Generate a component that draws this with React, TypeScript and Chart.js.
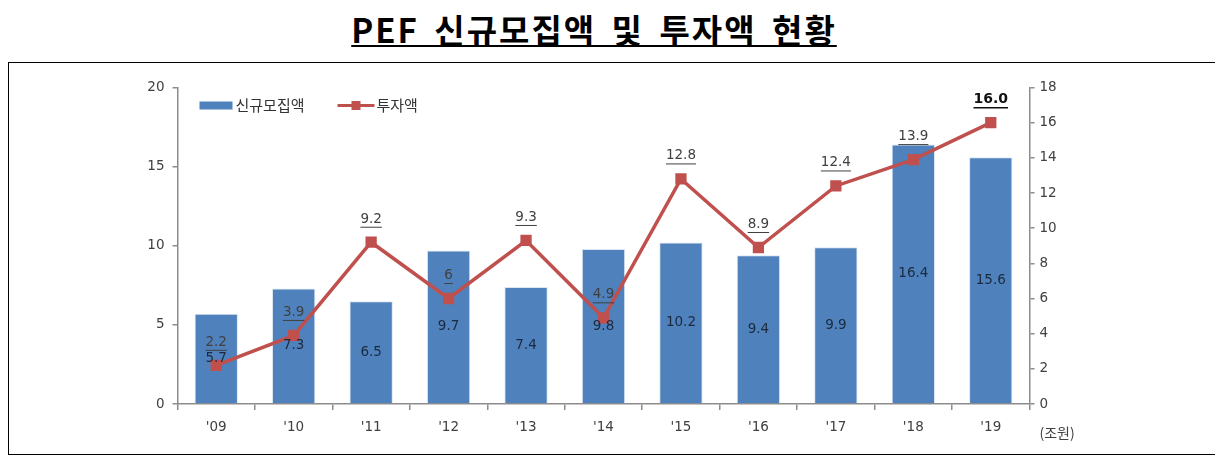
import { useEffect, useRef } from "react";
import { Chart, registerables, Plugin } from "chart.js";

Chart.register(...registerables);

const years = ["'09", "'10", "'11", "'12", "'13", "'14", "'15", "'16", "'17", "'18", "'19"];
const fundRaised = [5.7, 7.3, 6.5, 9.7, 7.4, 9.8, 10.2, 9.4, 9.9, 16.4, 15.6];
const invested = [2.2, 3.9, 9.2, 6, 9.3, 4.9, 12.8, 8.9, 12.4, 13.9, 16.0];
const investedLabels = ["2.2", "3.9", "9.2", "6", "9.3", "4.9", "12.8", "8.9", "12.4", "13.9", "16.0"];

const BLUE = "#4F81BD";
const RED = "#C0504D";
const NUM_FONT = "'DejaVu Sans', Verdana, sans-serif";
const KR_FONT = "'Noto Sans CJK KR', 'Noto Sans', sans-serif";

// value labels, legend and unit text
const labelsPlugin: Plugin = {
  id: "pefLabels",
  afterDatasetsDraw(chart) {
    const ctx = chart.ctx;
    const area = chart.chartArea;
    ctx.save();

    // bar labels, centred in the bar
    const barMeta = chart.getDatasetMeta(0);
    ctx.font = "13.5px " + NUM_FONT;
    ctx.fillStyle = "#1B2A3E";
    ctx.textAlign = "center";
    ctx.textBaseline = "middle";
    barMeta.data.forEach((el: any, i) => {
      ctx.fillText(String(fundRaised[i]), el.x, (el.y + el.base) / 2);
    });

    // line labels, underlined above the marker
    const lineMeta = chart.getDatasetMeta(1);
    lineMeta.data.forEach((el: any, i) => {
      const last = i === investedLabels.length - 1;
      ctx.font = (last ? "bold 14px " : "13.5px ") + NUM_FONT;
      ctx.fillStyle = last ? "#111" : "#404040";
      const txt = investedLabels[i];
      const y = el.y - 23;
      ctx.fillText(txt, el.x, y);
      const w = ctx.measureText(txt).width;
      ctx.strokeStyle = ctx.fillStyle;
      ctx.lineWidth = last ? 1.5 : 1;
      ctx.beginPath();
      ctx.moveTo(el.x - w / 2, y + 8);
      ctx.lineTo(el.x + w / 2, y + 8);
      ctx.stroke();
    });

    // legend
    const lx = area.left + 22;
    const ly = area.top + 18;
    ctx.fillStyle = BLUE;
    ctx.fillRect(lx, ly - 4, 33, 8);
    ctx.font = "15px " + KR_FONT;
    ctx.fillStyle = "#333";
    ctx.textAlign = "left";
    ctx.fillText("신규모집액", lx + 36, ly);
    const rx = lx + 138;
    ctx.strokeStyle = RED;
    ctx.lineWidth = 3;
    ctx.beginPath();
    ctx.moveTo(rx, ly);
    ctx.lineTo(rx + 37, ly);
    ctx.stroke();
    ctx.fillStyle = RED;
    ctx.fillRect(rx + 14, ly - 4.5, 9, 9);
    ctx.fillStyle = "#333";
    ctx.fillText("투자액", rx + 39, ly);

    // unit
    ctx.font = "14px " + KR_FONT;
    ctx.fillStyle = "#404040";
    ctx.fillText("(조원)", area.right + 10, area.bottom + 29);
    ctx.restore();
  },
};

export default function App() {
  const canvasRef = useRef<HTMLCanvasElement>(null);
  const chartRef = useRef<Chart | null>(null);

  useEffect(() => {
    if (!canvasRef.current) return;
    if (chartRef.current) chartRef.current.destroy();

    const tickFont = { family: NUM_FONT, size: 13.5 };
    const axisBorder = { display: true, color: "#8C8C8C", width: 1.5 };

    chartRef.current = new Chart(canvasRef.current, {
      type: "bar",
      data: {
        labels: years,
        datasets: [
          {
            type: "bar",
            label: "신규모집액",
            data: fundRaised,
            backgroundColor: BLUE,
            borderColor: "#DCE6F2",
            borderWidth: 1,
            barPercentage: 0.56,
            categoryPercentage: 1,
            yAxisID: "y",
            order: 2,
          },
          {
            type: "line",
            label: "투자액",
            data: invested,
            borderColor: RED,
            backgroundColor: RED,
            borderWidth: 3.5,
            pointStyle: "rect",
            pointRadius: 5.5,
            pointHoverRadius: 5.5,
            yAxisID: "y1",
            order: 1,
          },
        ],
      },
      options: {
        responsive: false,
        animation: false,
        layout: { padding: { top: 24.5, left: 0, right: 0, bottom: 0 } },
        plugins: {
          legend: { display: false },
          tooltip: { enabled: false },
        },
        scales: {
          x: {
            offset: true,
            grid: { drawOnChartArea: false, offset: true, tickLength: 6, color: "#8C8C8C", lineWidth: 1.5 },
            border: axisBorder,
            ticks: { font: tickFont, color: "#404040", padding: 9 },
            afterFit: (s: any) => { s.height = 50; },
          },
          y: {
            position: "left",
            min: 0,
            max: 20,
            ticks: { stepSize: 5, font: tickFont, color: "#404040", padding: 8 },
            grid: { drawOnChartArea: false, tickLength: 5, color: "#8C8C8C", lineWidth: 1.5 },
            border: axisBorder,
            afterFit: (s: any) => { s.width = 168.5; },
          },
          y1: {
            position: "right",
            min: 0,
            max: 18,
            ticks: { stepSize: 2, font: tickFont, color: "#404040", padding: 5 },
            grid: { drawOnChartArea: false, tickLength: 5, color: "#8C8C8C", lineWidth: 1.5 },
            border: axisBorder,
            afterFit: (s: any) => { s.width = 186.5; },
          },
        },
      },
      plugins: [labelsPlugin],
    });

    return () => {
      if (chartRef.current) {
        chartRef.current.destroy();
        chartRef.current = null;
      }
    };
  }, []);

  return (
    <div style={{ width: 1209 }}>
      <div style={{ height: 54, position: "relative" }}>
        <div
          style={{
            position: "absolute",
            left: 292,
            top: 2,
            width: 588,
            textAlign: "center",
            fontFamily: KR_FONT,
            fontWeight: 700,
            fontSize: 33,
            lineHeight: "38px",
            letterSpacing: "2px",
            wordSpacing: "6px",
            color: "#000",
            textDecoration: "underline",
            textDecorationThickness: "2px",
            textUnderlineOffset: "2px",
            whiteSpace: "nowrap",
          }}
        >
          PEF 신규모집액 및 투자액 현황
        </div>
      </div>
      <div style={{ border: "1.5px solid #000", width: 1207, height: 391 }}>
        <canvas ref={canvasRef} width={1207} height={391} style={{ display: "block" }} />
      </div>
    </div>
  );
}
